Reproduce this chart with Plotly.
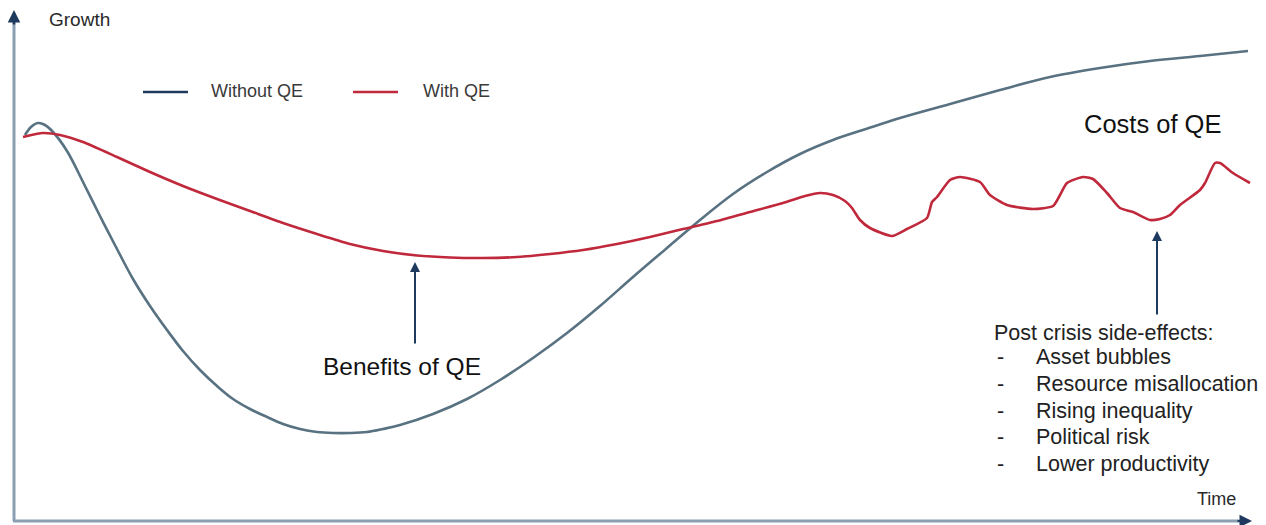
import plotly.graph_objects as go

H = 525
# Without QE (time, growth)
time_without = [25, 31, 38, 45, 53, 67, 83, 100, 117, 133, 150, 167, 183, 200, 217, 233, 250, 267, 283, 300, 317, 333, 350, 367, 383, 400, 433, 467, 500, 533, 567, 600, 633, 667, 700, 733, 767, 800, 833, 866, 900, 950, 1000, 1050, 1100, 1150, 1200, 1248]
growth_without = [390, 398, 402, 400, 393, 374, 343, 309, 276, 246, 219, 195, 174, 155, 139, 126, 116, 108, 101, 96, 93, 92, 92, 93, 96, 100, 111, 126, 145, 167, 192, 219, 248, 277, 305, 331, 353, 371, 385, 396, 407, 421, 435, 448, 457, 464, 469, 474]

# With QE
time_with = [23, 43, 60, 83, 117, 150, 183, 217, 250, 283, 317, 350, 383, 417, 450, 483, 517, 550, 583, 617, 650, 683, 717, 750, 783, 805, 820, 833, 845, 852, 860, 870, 892, 907, 927, 932, 937, 950, 960, 980, 990, 1007, 1033, 1053, 1060, 1067, 1083, 1093, 1107, 1120, 1133, 1150, 1160, 1170, 1180, 1200, 1205, 1215, 1220, 1233, 1250]
growth_with = [388, 392, 390, 383, 368, 353, 339, 326, 314, 302, 291, 281, 274, 269.5, 267.5, 267, 268, 271, 275, 281, 288, 296, 304, 313, 322, 329, 332, 330, 324, 317, 305, 297, 289, 296, 307, 323, 328, 345, 348, 343, 330, 320, 316, 319, 330, 342, 348, 346, 332, 317, 313, 305, 306, 310, 320, 335, 342, 362, 362, 352, 342]

series_names = ["Without QE", "With QE"]
colors = ["#587282", "#c0283c"]
legend_colors = ["#1f3a5f", "#c0283c"]

side_effects_title = "Post crisis side-effects:"
side_effects = ["Asset bubbles", "Resource misallocation", "Rising inequality", "Political risk", "Lower productivity"]

FONT = "Liberation Sans, Arial, sans-serif"

fig = go.Figure()
fig.add_trace(go.Scatter(x=time_without, y=growth_without, mode="lines", name=series_names[0],
                         line=dict(color=colors[0], width=2.6, shape="spline", smoothing=1.0), showlegend=False))
fig.add_trace(go.Scatter(x=time_with, y=growth_with, mode="lines", name=series_names[1],
                         line=dict(color=colors[1], width=2.6, shape="spline", smoothing=0.6), showlegend=False))

shapes = []
annotations = []
axis_col = "#8aa0b2"
arrow_col = "#1f3a5f"
# axes
shapes.append(dict(type="line", x0=14, x1=14, y0=H - 521, y1=H - 22, line=dict(color=axis_col, width=3)))
shapes.append(dict(type="line", x0=13, x1=1238, y0=H - 521, y1=H - 521, line=dict(color=axis_col, width=3)))
annotations.append(dict(x=14, y=H - 10, ax=14, ay=H - 26, xref="x", yref="y", axref="x", ayref="y",
                        showarrow=True, arrowhead=2, arrowsize=1, arrowwidth=2.5, arrowcolor=arrow_col, text=""))
annotations.append(dict(x=1252, y=H - 521, ax=1236, ay=H - 521, xref="x", yref="y", axref="x", ayref="y",
                        showarrow=True, arrowhead=2, arrowsize=1, arrowwidth=2.5, arrowcolor=arrow_col, text=""))

annotations.append(dict(x=47, y=H - 19, text="Growth", showarrow=False, xanchor="left", yanchor="middle",
                        font=dict(size=19, color="#2a2a2a", family=FONT)))
annotations.append(dict(x=1238, y=H - 499, text="Time", showarrow=False, xanchor="right", yanchor="middle",
                        font=dict(size=18, color="#2a2a2a", family=FONT)))

# legend
for i, (x0, xt) in enumerate([(143, 209), (353, 421)]):
    shapes.append(dict(type="line", x0=x0, x1=x0 + 45, y0=H - 92, y1=H - 92, line=dict(color=legend_colors[i], width=2.5)))
    annotations.append(dict(x=xt, y=H - 91, text=series_names[i], showarrow=False, xanchor="left", yanchor="middle",
                            font=dict(size=18, color="#3a3a3a", family=FONT)))

# Benefits
annotations.append(dict(x=415, y=H - 262, ax=415, ay=H - 345, xref="x", yref="y", axref="x", ayref="y",
                        showarrow=True, arrowhead=2, arrowsize=1, arrowwidth=2, arrowcolor=arrow_col, text=""))
annotations.append(dict(x=402, y=H - 366, text="Benefits of QE", showarrow=False, xanchor="center", yanchor="middle",
                        font=dict(size=24.5, color="#111", family=FONT)))
# Costs
annotations.append(dict(x=1157, y=H - 231, ax=1157, ay=H - 316, xref="x", yref="y", axref="x", ayref="y",
                        showarrow=True, arrowhead=2, arrowsize=1, arrowwidth=2, arrowcolor=arrow_col, text=""))
annotations.append(dict(x=1152, y=H - 124, text="Costs of QE", showarrow=False, xanchor="center", yanchor="middle",
                        font=dict(size=25.5, color="#111", family=FONT)))

annotations.append(dict(x=992, y=H - 333, text=side_effects_title, showarrow=False, xanchor="left", yanchor="middle",
                        font=dict(size=21.5, color="#222", family=FONT)))
for i, item in enumerate(side_effects):
    yy = H - (357 + i * 26.8)
    annotations.append(dict(x=995, y=yy, text="-", showarrow=False, xanchor="left", yanchor="middle",
                            font=dict(size=21.5, color="#222", family=FONT)))
    annotations.append(dict(x=1034, y=yy, text=item, showarrow=False, xanchor="left", yanchor="middle",
                            font=dict(size=21.5, color="#222", family=FONT)))

fig.update_layout(
    width=1266, height=525, margin=dict(l=0, r=0, t=0, b=0),
    paper_bgcolor="white", plot_bgcolor="white",
    xaxis=dict(range=[0, 1266], visible=False, fixedrange=True),
    yaxis=dict(range=[0, H], visible=False, fixedrange=True),
    shapes=shapes, annotations=annotations, showlegend=False,
)
fig.write_html("out.html")
